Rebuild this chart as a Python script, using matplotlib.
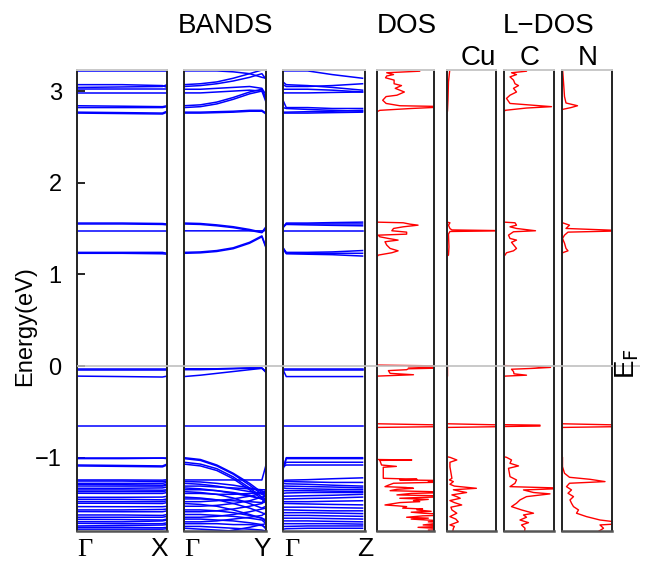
import matplotlib
matplotlib.use("Agg")
import matplotlib.pyplot as plt
import numpy as np

plt.rcParams['font.family'] = ['Liberation Sans', 'DejaVu Sans']

# ---------------- band data (eV) ----------------
# Gamma - X
k_gx = [0.0, 0.5, 0.95, 1.0]
bands_gx = [
    [3.22, 3.22, 3.22, 3.22],
    [3.07, 3.07, 3.06, 3.04],
    [3.04, 3.045, 3.05, 3.07],
    [3.02, 3.02, 3.02, 3.02],
    [2.98, 2.98, 2.98, 2.98],
    [2.84, 2.835, 2.83, 2.84],
    [2.82, 2.82, 2.82, 2.83],
    [2.77, 2.765, 2.76, 2.78],
    [2.76, 2.755, 2.75, 2.77],
    [1.56, 1.56, 1.555, 1.55],
    [1.55, 1.55, 1.545, 1.54],
    [1.475, 1.475, 1.475, 1.475],
    [1.24, 1.24, 1.24, 1.23],
    [1.23, 1.23, 1.225, 1.22],
    [-0.03, -0.03, -0.03, -0.03],
    [-0.04, -0.04, -0.04, -0.04],
    [-0.11, -0.115, -0.12, -0.11],
    [-0.65, -0.65, -0.65, -0.65],
    [-1.00, -1.00, -1.00, -1.00],
    [-1.01, -1.01, -1.005, -1.01],
    [-1.08, -1.085, -1.09, -1.07],
    [-1.09, -1.095, -1.10, -1.08],
    [-1.243, -1.243, -1.245, -1.24],
    [-1.255, -1.255, -1.26, -1.255],
    [-1.28, -1.28, -1.28, -1.27],
    [-1.29, -1.295, -1.30, -1.29],
    [-1.309, -1.31, -1.31, -1.30],
    [-1.334, -1.334, -1.33, -1.32],
    [-1.352, -1.352, -1.355, -1.35],
    [-1.37, -1.37, -1.37, -1.36],
    [-1.388, -1.39, -1.39, -1.38],
    [-1.432, -1.432, -1.43, -1.42],
    [-1.454, -1.455, -1.46, -1.45],
    [-1.479, -1.48, -1.48, -1.47],
    [-1.497, -1.497, -1.50, -1.49],
    [-1.534, -1.535, -1.535, -1.53],
    [-1.57, -1.57, -1.565, -1.56],
    [-1.588, -1.59, -1.59, -1.58],
    [-1.625, -1.625, -1.63, -1.62],
    [-1.65, -1.65, -1.65, -1.64],
    [-1.672, -1.675, -1.68, -1.67],
    [-1.698, -1.70, -1.69, -1.68],
    [-1.716, -1.72, -1.72, -1.71],
    [-1.745, -1.74, -1.735, -1.73],
    [-1.76, -1.76, -1.765, -1.76],
    [-1.78, -1.78, -1.78, -1.775],
]

# Gamma - Y
k_gy = [0.0, 0.2, 0.4, 0.6, 0.8, 0.95, 1.0]
bands_gy = [
    [3.22, 3.22, 3.22, 3.21, 3.19, 3.15, 3.14],
    [3.07, 3.08, 3.10, 3.14, 3.19, 3.23, 3.24],
    [3.05, 3.06, 3.08, 3.11, 3.15, 3.19, 3.13],
    [3.02, 3.02, 3.03, 3.04, 3.05, 3.03, 2.96],
    [2.98, 2.98, 2.99, 3.00, 3.01, 3.00, 2.93],
    [2.84, 2.85, 2.88, 2.93, 2.99, 3.02, 2.90],
    [2.82, 2.83, 2.86, 2.91, 2.97, 3.00, 2.88],
    [2.77, 2.77, 2.775, 2.78, 2.79, 2.79, 2.76],
    [2.76, 2.76, 2.765, 2.77, 2.78, 2.78, 2.75],
    [1.56, 1.555, 1.54, 1.52, 1.49, 1.46, 1.52],
    [1.55, 1.545, 1.53, 1.51, 1.48, 1.455, 1.50],
    [1.475, 1.475, 1.475, 1.475, 1.475, 1.475, 1.48],
    [1.24, 1.245, 1.26, 1.29, 1.35, 1.42, 1.30],
    [1.23, 1.235, 1.25, 1.28, 1.34, 1.41, 1.29],
    [-0.03, -0.03, -0.03, -0.025, -0.02, -0.02, -0.06],
    [-0.04, -0.04, -0.035, -0.03, -0.025, -0.025, -0.07],
    [-0.115, -0.10, -0.08, -0.06, -0.04, -0.025, -0.06],
    [-0.65, -0.65, -0.65, -0.65, -0.65, -0.65, -0.65],
    [-1.00, -1.02, -1.08, -1.17, -1.28, -1.38, -1.40],
    [-1.01, -1.03, -1.09, -1.18, -1.30, -1.40, -1.42],
    [-1.05, -1.07, -1.12, -1.21, -1.33, -1.43, -1.45],
    [-1.07, -1.09, -1.14, -1.23, -1.35, -1.45, -1.48],
    [-1.243, -1.243, -1.243, -1.243, -1.243, -1.243, -1.08],
    [-1.26, -1.265, -1.28, -1.30, -1.33, -1.36, -1.40],
    [-1.28, -1.29, -1.31, -1.34, -1.37, -1.39, -1.42],
    [-1.31, -1.31, -1.32, -1.33, -1.34, -1.35, -1.35],
    [-1.33, -1.34, -1.36, -1.39, -1.42, -1.45, -1.45],
    [-1.35, -1.35, -1.36, -1.38, -1.41, -1.45, -1.50],
    [-1.37, -1.38, -1.40, -1.44, -1.50, -1.55, -1.53],
    [-1.39, -1.39, -1.40, -1.40, -1.39, -1.38, -1.36],
    [-1.43, -1.44, -1.46, -1.50, -1.55, -1.60, -1.62],
    [-1.45, -1.45, -1.46, -1.47, -1.48, -1.49, -1.44],
    [-1.48, -1.48, -1.47, -1.45, -1.42, -1.39, -1.38],
    [-1.50, -1.51, -1.53, -1.57, -1.62, -1.66, -1.68],
    [-1.53, -1.53, -1.52, -1.50, -1.47, -1.43, -1.42],
    [-1.57, -1.57, -1.58, -1.60, -1.63, -1.66, -1.70],
    [-1.59, -1.59, -1.58, -1.56, -1.53, -1.50, -1.47],
    [-1.62, -1.62, -1.63, -1.64, -1.66, -1.68, -1.72],
    [-1.65, -1.65, -1.64, -1.62, -1.59, -1.56, -1.55],
    [-1.67, -1.67, -1.68, -1.69, -1.71, -1.73, -1.78],
    [-1.70, -1.70, -1.69, -1.67, -1.65, -1.63, -1.60],
    [-1.72, -1.72, -1.72, -1.73, -1.73, -1.74, -1.76],
    [-1.75, -1.75, -1.76, -1.77, -1.78, -1.79, -1.80],
    [-1.77, -1.78, -1.79, -1.80, -1.81, -1.82, -1.82],
    [-1.85, -1.84, -1.82, -1.79, -1.76, -1.73, -1.72],
]

# Gamma - Z
k_gz = [0.0, 0.04, 0.3, 0.6, 0.97]
bands_gz = [
    [3.22, 3.22, 3.22, 3.18, 3.14],
    [3.10, 3.07, 3.06, 3.04, 3.01],
    [3.07, 3.05, 3.05, 3.06, 3.08],
    [3.02, 3.02, 3.02, 3.01, 2.99],
    [2.98, 2.98, 2.98, 2.985, 2.99],
    [2.90, 2.82, 2.82, 2.81, 2.81],
    [2.82, 2.81, 2.80, 2.79, 2.78],
    [2.77, 2.77, 2.775, 2.78, 2.79],
    [2.76, 2.76, 2.76, 2.765, 2.77],
    [1.51, 1.56, 1.56, 1.565, 1.57],
    [1.51, 1.55, 1.55, 1.55, 1.55],
    [1.52, 1.545, 1.54, 1.535, 1.53],
    [1.475, 1.475, 1.475, 1.475, 1.475],
    [1.29, 1.24, 1.24, 1.245, 1.26],
    [1.29, 1.23, 1.23, 1.23, 1.23],
    [1.28, 1.225, 1.22, 1.215, 1.20],
    [-0.03, -0.03, -0.03, -0.03, -0.03],
    [-0.04, -0.04, -0.04, -0.04, -0.04],
    [-0.04, -0.115, -0.115, -0.115, -0.115],
    [-0.65, -0.65, -0.65, -0.65, -0.65],
    [-1.13, -1.00, -1.00, -1.00, -1.00],
    [-1.12, -1.01, -1.01, -1.01, -1.01],
    [-1.10, -1.05, -1.05, -1.05, -1.05],
    [-1.10, -1.08, -1.08, -1.08, -1.08],
    [-1.25, -1.245, -1.24, -1.23, -1.22],
    [-1.26, -1.26, -1.265, -1.27, -1.27],
    [-1.28, -1.285, -1.29, -1.30, -1.31],
    [-1.31, -1.31, -1.315, -1.32, -1.33],
    [-1.33, -1.335, -1.34, -1.345, -1.35],
    [-1.36, -1.36, -1.36, -1.365, -1.37],
    [-1.39, -1.385, -1.38, -1.38, -1.38],
    [-1.42, -1.42, -1.415, -1.41, -1.40],
    [-1.45, -1.45, -1.445, -1.44, -1.43],
    [-1.48, -1.48, -1.48, -1.475, -1.47],
    [-1.50, -1.50, -1.505, -1.51, -1.515],
    [-1.54, -1.54, -1.54, -1.545, -1.55],
    [-1.57, -1.57, -1.575, -1.58, -1.58],
    [-1.60, -1.60, -1.60, -1.605, -1.61],
    [-1.63, -1.63, -1.63, -1.635, -1.64],
    [-1.66, -1.66, -1.66, -1.665, -1.67],
    [-1.69, -1.69, -1.69, -1.695, -1.70],
    [-1.72, -1.72, -1.72, -1.72, -1.725],
    [-1.75, -1.75, -1.745, -1.745, -1.745],
    [-1.78, -1.775, -1.77, -1.77, -1.77],
]

# ---------------- DOS data (energy, arbitrary units) ----------------
dos_E = [3.25, 3.217, 3.20, 3.18, 3.165, 3.145, 3.12, 3.08, 3.06, 3.03, 2.99, 2.955,
         2.94, 2.90, 2.865, 2.84, 2.83, 2.81, 2.79, 2.775,
         1.57, 1.563, 1.548, 1.537, 1.519, 1.501, 1.476, 1.461, 1.439, 1.428, 1.41,
         1.392, 1.374, 1.356, 1.32, 1.283, 1.257, 1.236, 1.21, 1.19,
         0.01, 0.0, -0.01, -0.02, -0.03, -0.04, -0.05, -0.08, -0.095, -0.11,
         -0.63, -0.645, -0.66, -0.67,
         -1.0, -1.02, -1.025, -1.03, -1.08, -1.095, -1.105, -1.225, -1.235, -1.243,
         -1.25, -1.26, -1.265, -1.279, -1.30, -1.316, -1.325, -1.334, -1.345, -1.36,
         -1.37, -1.38, -1.39, -1.406, -1.415, -1.425, -1.435, -1.443, -1.455, -1.468,
         -1.48, -1.49, -1.50, -1.516, -1.525, -1.534, -1.55, -1.56, -1.57, -1.585,
         -1.595, -1.606, -1.615, -1.625, -1.635, -1.65, -1.66, -1.67, -1.68, -1.69,
         -1.70, -1.709, -1.72, -1.734, -1.745, -1.76, -1.77, -1.782, -1.79, -1.85]
dos_tot = [0.75, 0.75, 0.17, 0.29, 0.17, 0.15, 0.30, 0.30, 0.43, 0.32, 0.48, 0.35,
           0.16, 0.10, 0.16, 0.40, 1.30, 0.60, 0.05, 0.0,
           0.0, 0.46, 0.58, 0.72, 0.46, 0.29, 0.26, 0.52, 0.52, 0.02, 0.05,
           0.20, 0.37, 0.14, 0.17, 0.23, 0.37, 0.26, 0.02, 0.0,
           0.0, 1.30, 0.55, 1.30, 0.55, 0.52, 0.20, 0.23, 0.64, 0.0,
           0.0, 1.30, 1.30, 0.0,
           0.0, 0.0, 0.61, 0.05, 0.08, 0.34, 0.11, 0.11, 0.70, 0.40,
           1.30, 0.90, 1.30, 0.29, 0.20, 0.14, 0.50, 0.64, 0.35, 0.23,
           0.90, 1.30, 0.60, 0.35, 1.00, 1.30, 0.70, 0.40, 0.90, 0.64,
           0.75, 0.40, 0.30, 0.14, 0.35, 0.52, 0.45, 0.80, 0.70, 0.95,
           0.60, 0.81, 1.10, 1.30, 0.80, 0.52, 0.90, 0.60, 0.87, 1.20,
           0.90, 1.30, 1.00, 0.81, 1.30, 0.72, 1.00, 1.30, 0.90, 1.00]

cu_E = [3.25, 3.10, 2.90, 2.78, 2.77,
        1.57, 1.563, 1.537, 1.50, 1.485, 1.476, 1.468, 1.44, 1.30, 1.21, 1.20,
        0.01, 0.0, -0.11, -0.12,
        -0.63, -0.645, -0.66, -0.67,
        -0.99, -0.996, -1.025, -1.05, -1.10, -1.225, -1.243, -1.261, -1.29, -1.31,
        -1.334, -1.35, -1.365, -1.38, -1.406, -1.425, -1.443, -1.468, -1.49, -1.516,
        -1.54, -1.57, -1.606, -1.643, -1.67, -1.70, -1.734, -1.75, -1.77, -1.85]
cu_dos = [0.06, 0.03, 0.02, 0.01, 0.0,
          0.0, 0.06, 0.03, 0.06, 0.10, 1.30, 0.06, 0.03, 0.04, 0.03, 0.0,
          0.0, 0.01, 0.01, 0.0,
          0.0, 1.30, 1.30, 0.0,
          0.0, 0.06, 0.20, 0.06, 0.06, 0.10, 0.05, 0.13, 0.06, 0.15,
          0.60, 0.13, 0.25, 0.40, 0.10, 0.20, 0.27, 0.06, 0.15, 0.30,
          0.08, 0.10, 0.20, 0.06, 0.18, 0.23, 0.06, 0.15, 0.13, 0.10]

c_E = [3.25, 3.217, 3.20, 3.18, 3.155, 3.12, 3.08, 3.06, 3.03, 2.99, 2.955, 2.92,
       2.865, 2.83, 2.815, 2.79, 2.77,
       1.57, 1.563, 1.537, 1.519, 1.501, 1.476, 1.465, 1.428, 1.392, 1.374, 1.35,
       1.283, 1.257, 1.236, 1.21, 1.20,
       0.005, -0.005, -0.015, -0.025, -0.035, -0.06, -0.085, -0.10, -0.11, -0.12,
       -0.64, -0.645, -0.655, -0.66,
       -0.99, -0.996, -1.025, -1.061, -1.09, -1.116, -1.207, -1.243, -1.279, -1.316,
       -1.334, -1.352, -1.38, -1.395, -1.425, -1.461, -1.497, -1.534, -1.57, -1.606,
       -1.625, -1.65, -1.68, -1.709, -1.734, -1.77, -1.85]
c_dos = [0.45, 0.45, 0.15, 0.25, 0.12, 0.19, 0.22, 0.29, 0.19, 0.25, 0.12, 0.05,
         0.12, 0.95, 0.45, 0.02, 0.0,
         0.0, 0.22, 0.25, 0.12, 0.25, 0.63, 0.19, 0.09, 0.12, 0.25, 0.15,
         0.25, 0.19, 0.05, 0.02, 0.0,
         0.0, 0.63, 0.93, 0.60, 0.15, 0.19, 0.20, 0.45, 0.02, 0.0,
         0.0, 0.72, 0.72, 0.0,
         0.0, 0.05, 0.15, 0.12, 0.29, 0.09, 0.12, 0.25, 0.22, 0.12,
         1.30, 0.39, 0.59, 0.92, 0.45, 0.32, 0.25, 0.15, 0.35, 0.59,
         0.39, 0.45, 0.32, 0.49, 0.35, 0.42, 0.40]

n_E = [3.25, 3.10, 2.94, 2.87, 2.84, 2.82, 2.80, 2.78,
       1.57, 1.563, 1.537, 1.501, 1.476, 1.461, 1.428, 1.392, 1.34, 1.283, 1.257,
       1.236, 1.20,
       -0.63, -0.645, -0.66, -0.67,
       -0.99, -0.996, -1.098, -1.17, -1.214, -1.236, -1.261, -1.279, -1.316, -1.352,
       -1.388, -1.425, -1.461, -1.497, -1.534, -1.57, -1.606, -1.643, -1.68, -1.716,
       -1.734, -1.77, -1.85]
n_dos = [0.01, 0.03, 0.05, 0.08, 0.31, 0.18, 0.01, 0.0,
         0.0, 0.01, 0.15, 0.08, 1.30, 0.12, 0.05, 0.01, 0.05, 0.08, 0.12,
         0.01, 0.0,
         0.0, 1.30, 1.30, 0.0,
         0.0, 0.01, 0.01, 0.05, 0.15, 0.56, 0.86, 0.15, 0.09, 0.19,
         0.12, 0.23, 0.16, 0.19, 0.23, 0.33, 0.29, 0.49, 0.76, 1.30,
         0.76, 0.83, 0.60]

yticks = [-1, 0, 1, 2, 3]
ylim = (-1.8, 3.23)

W, H = 649, 576
fig = plt.figure(figsize=(W / 100, H / 100), dpi=100)

def px_axes(x0, x1, y0=70, y1=531):
    return fig.add_axes([x0 / W, 1 - y1 / H, (x1 - x0) / W, (y1 - y0) / H])

def style(ax):
    ax.set_ylim(*ylim)
    ax.set_xticks([])
    for s in ('left', 'right'):
        ax.spines[s].set_color('#222222')
        ax.spines[s].set_linewidth(1.4)
    ax.spines['bottom'].set_color('#555555')
    ax.spines['bottom'].set_linewidth(1.8)
    ax.spines['top'].set_color('#c8c8c8')
    ax.spines['top'].set_linewidth(1.4)

band_sets = [(k_gx, bands_gx, 77, 167), (k_gy, bands_gy, 184, 266), (k_gz, bands_gz, 283, 365)]
band_axes = []
for k, bands, x0, x1 in band_sets:
    ax = px_axes(x0, x1)
    for b in bands:
        ax.plot(k, b, color='#0000ff', lw=1.1)
    ax.set_xlim(0, 1)
    style(ax)
    band_axes.append(ax)

for i, ax in enumerate(band_axes):
    if i == 0:
        ax.set_yticks(yticks)
        ax.set_yticklabels([f"{t}".replace('-', '\u2212') for t in yticks], fontsize=17)
        ax.tick_params(axis='y', direction='in', length=6, width=1.2, pad=11, right=False)
    else:
        ax.set_yticks([])

fig.text(25 / W, 1 - 326 / H, 'Energy(eV)', fontsize=17, rotation=90,
         ha='center', va='center')

dos_sets = [(dos_E, dos_tot, 377, 434), (cu_E, cu_dos, 447, 496),
            (c_E, c_dos, 504, 554), (n_E, n_dos, 562, 612)]
for E, d, x0, x1 in dos_sets:
    ax = px_axes(x0, x1)
    ax.plot(d, E, color='#ff0000', lw=1.0)
    ax.set_xlim(0, 1)
    ax.set_yticks([])
    style(ax)

# Fermi level line across all panels
ov = px_axes(77, 640)
ov.set_xlim(0, 1)
ov.set_ylim(*ylim)
ov.axhline(0, color='#c0c0c0', lw=1.2)
ov.patch.set_alpha(0)
ov.axis('off')

# k-point labels (baseline in figure pixels)
kb = 1 - 556 / H
gfont = dict(fontsize=19, family=['Liberation Serif', 'DejaVu Serif'], va='baseline')
sfont = dict(fontsize=19, va='baseline')
fig.text(77 / W, kb, '\u0393', ha='left', **gfont)
fig.text(168 / W, kb, 'X', ha='right', **sfont)
fig.text(184 / W, kb, '\u0393', ha='left', **gfont)
fig.text(271 / W, kb, 'Y', ha='right', **sfont)
fig.text(284 / W, kb, '\u0393', ha='left', **gfont)
fig.text(365 / W, kb, 'Z', ha='center', **sfont)

# titles
fig.text(226 / W, 1 - 26 / H, 'BANDS', fontsize=20, ha='center', va='center')
fig.text(407 / W, 1 - 26 / H, 'DOS', fontsize=20, ha='center', va='center')
fig.text(549 / W, 1 - 26 / H, 'L\u2212DOS', fontsize=20, ha='center', va='center')
fig.text(478 / W, 1 - 58 / H, 'Cu', fontsize=20, ha='center', va='center')
fig.text(530 / W, 1 - 58 / H, 'C', fontsize=20, ha='center', va='center')
fig.text(588 / W, 1 - 58 / H, 'N', fontsize=20, ha='center', va='center')
fig.text(627 / W, 1 - 364 / H, 'E$_\\mathrm{F}$', fontsize=20, ha='center', va='center', rotation=90)

fig.savefig('out.png', dpi=100)
